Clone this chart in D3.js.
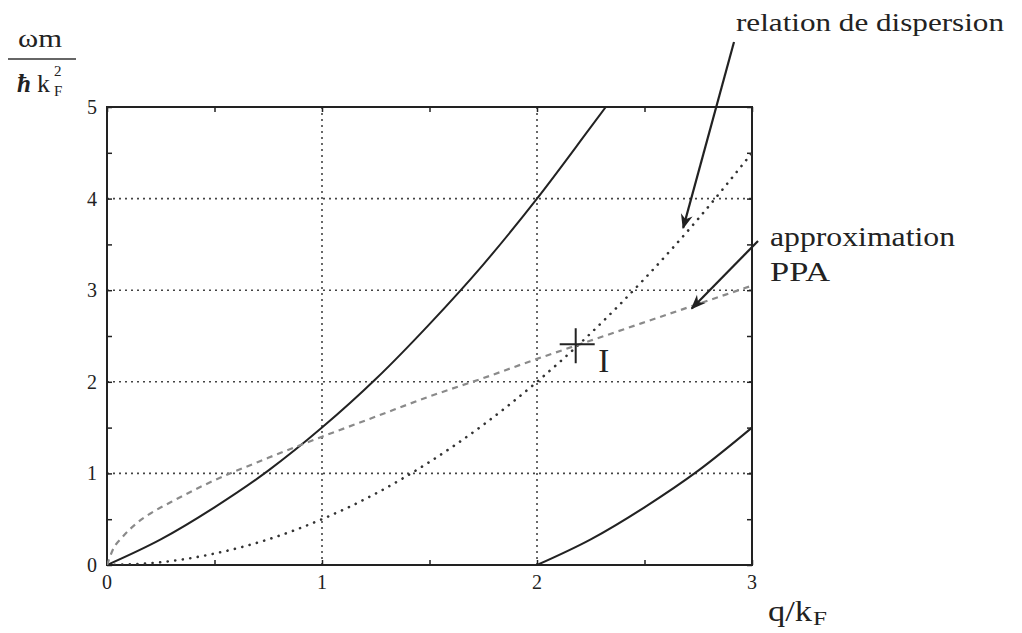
<!DOCTYPE html>
<html><head><meta charset="utf-8">
<script src="https://cdn.jsdelivr.net/npm/d3@7"></script>
<style>body{margin:0;background:#fff}svg{display:block}text{font-family:"Liberation Serif","DejaVu Serif",serif;fill:#222}</style>
</head><body>
<svg id="c" width="1022" height="633"></svg>
<script>
// Data
const xTicks = [0, 1, 2, 3];
const yTicks = [0, 1, 2, 3, 4, 5];
const upperQ = [0, 0.25, 0.5, 0.75, 1, 1.25, 1.5, 1.75, 2, 2.25, 2.32];
const upperW = [0, 0.28, 0.63, 1.03, 1.5, 2.03, 2.63, 3.28, 4.0, 4.78, 5.0];
const lowerQ = [2, 2.25, 2.5, 2.75, 3];
const lowerW = [0, 0.28, 0.63, 1.03, 1.5];
const dispQ = [0, 0.25, 0.5, 0.75, 1, 1.25, 1.5, 1.75, 2, 2.25, 2.5, 2.75, 3];
const dispW = [0, 0.03, 0.125, 0.28, 0.5, 0.78, 1.125, 1.53, 2.0, 2.53, 3.125, 3.78, 4.5];
const ppaQ = [0, 0.03, 0.07, 0.14, 0.2, 0.3, 0.45, 0.75, 1, 1.25, 1.5, 1.75, 2, 2.25, 2.5, 2.75, 3];
const ppaW = [0, 0.18, 0.3, 0.46, 0.56, 0.69, 0.87, 1.17, 1.4, 1.62, 1.84, 2.04, 2.25, 2.45, 2.65, 2.85, 3.05];
const pointI = {q: 2.18, w: 2.41, label: "I"};

const svg = d3.select("#c");
const L = 107, R = 752, T = 107, B = 565;
const x = d3.scaleLinear().domain([0, 3]).range([L, R]);
const y = d3.scaleLinear().domain([0, 5]).range([B, T]);

const defs = svg.append("defs");
defs.append("clipPath").attr("id", "clip").append("rect")
  .attr("x", L).attr("y", T).attr("width", R - L).attr("height", B - T);
defs.append("marker").attr("id", "ah").attr("viewBox", "0 0 10 10")
  .attr("refX", 9).attr("refY", 5).attr("markerWidth", 15).attr("markerHeight", 15)
  .attr("markerUnits", "userSpaceOnUse").attr("orient", "auto")
  .append("path").attr("d", "M0,1 L10,5 L0,9 L3,5 Z").attr("fill", "#222");

// grid
const g = svg.append("g");
g.selectAll(".gx").data(xTicks.filter(d => d > 0 && d < 3)).join("line")
  .attr("x1", d => x(d)).attr("x2", d => x(d)).attr("y1", B).attr("y2", T)
  .attr("stroke", "#444").attr("stroke-width", 1.6).attr("stroke-dasharray", "2,4");
g.selectAll(".gy").data(yTicks.filter(d => d > 0 && d < 5)).join("line")
  .attr("x1", L).attr("x2", R).attr("y1", d => y(d)).attr("y2", d => y(d))
  .attr("stroke", "#444").attr("stroke-width", 1.6).attr("stroke-dasharray", "2,4");

// axes with inward ticks
const minorX = d3.range(0, 3.01, 0.5), minorY = d3.range(0, 5.01, 0.5);
const axB = d3.axisBottom(x).tickValues(minorX).tickSize(-5).tickFormat("");
const axT = d3.axisTop(x).tickValues(minorX).tickSize(-5).tickFormat("");
const axL = d3.axisLeft(y).tickValues(minorY).tickSize(-5).tickFormat("");
const axR = d3.axisRight(y).tickValues(minorY).tickSize(-5).tickFormat("");
[[axB, `translate(0,${B})`], [axT, `translate(0,${T})`], [axL, `translate(${L},0)`], [axR, `translate(${R},0)`]]
  .forEach(([a, t]) => {
    const ga = svg.append("g").attr("transform", t).call(a);
    ga.select(".domain").remove();
    ga.selectAll("line").attr("stroke", "#222").attr("stroke-width", 1.5);
  });
svg.append("rect").attr("x", L).attr("y", T).attr("width", R - L).attr("height", B - T)
  .attr("fill", "none").attr("stroke", "#222").attr("stroke-width", 2);

// tick labels
svg.selectAll(".xl").data(xTicks).join("text")
  .attr("x", d => x(d)).attr("y", B + 24).attr("text-anchor", "middle")
  .attr("font-size", 20).text(d => d);
svg.selectAll(".yl").data(yTicks).join("text")
  .attr("x", L - 10).attr("y", d => y(d) + 7).attr("text-anchor", "end")
  .attr("font-size", 20).text(d => d);

// curves
const line = d3.line().x(d => x(d[0])).y(d => y(d[1])).curve(d3.curveMonotoneX);
const zip = (a, b) => a.map((v, i) => [v, b[i]]);
const cg = svg.append("g").attr("clip-path", "url(#clip)");
cg.append("path").attr("d", line(zip(upperQ, upperW))).attr("fill", "none")
  .attr("stroke", "#222").attr("stroke-width", 2);
cg.append("path").attr("d", line(zip(lowerQ, lowerW))).attr("fill", "none")
  .attr("stroke", "#222").attr("stroke-width", 2);
cg.append("path").attr("d", line(zip(dispQ, dispW))).attr("fill", "none")
  .attr("stroke", "#333").attr("stroke-width", 2.6).attr("stroke-linecap", "round")
  .attr("stroke-dasharray", "0.1,7.5");
cg.append("path").attr("d", line(zip(ppaQ, ppaW))).attr("fill", "none")
  .attr("stroke", "#8a8a8a").attr("stroke-width", 2.2).attr("stroke-dasharray", "6,5");

// point I cross
const cx = x(pointI.q), cy = y(pointI.w);
svg.append("line").attr("x1", cx - 16).attr("x2", cx + 19).attr("y1", cy).attr("y2", cy)
  .attr("stroke", "#222").attr("stroke-width", 2);
svg.append("line").attr("x1", cx).attr("x2", cx).attr("y1", cy - 16).attr("y2", cy + 19)
  .attr("stroke", "#222").attr("stroke-width", 2);
svg.append("text").attr("x", cx + 28).attr("y", cy + 28).attr("text-anchor", "middle")
  .attr("font-size", 33).attr("textLength", 11).attr("lengthAdjust", "spacingAndGlyphs").text(pointI.label);

// annotations
svg.append("text").attr("x", 736).attr("y", 31).attr("font-size", 26)
  .attr("textLength", 268).attr("lengthAdjust", "spacingAndGlyphs").text("relation de dispersion");
svg.append("line").attr("x1", 734).attr("y1", 42).attr("x2", x(2.68)).attr("y2", y(3.68))
  .attr("stroke", "#222").attr("stroke-width", 2.2).attr("marker-end", "url(#ah)");
svg.append("text").attr("x", 770).attr("y", 246).attr("font-size", 27)
  .attr("textLength", 185).attr("lengthAdjust", "spacingAndGlyphs").text("approximation");
svg.append("text").attr("x", 770).attr("y", 281).attr("font-size", 27)
  .attr("textLength", 60).attr("lengthAdjust", "spacingAndGlyphs").text("PPA");
svg.append("line").attr("x1", 758).attr("y1", 241).attr("x2", x(2.72)).attr("y2", y(2.8))
  .attr("stroke", "#222").attr("stroke-width", 2.2).attr("marker-end", "url(#ah)");

// axis titles
const yl = svg.append("g");
yl.append("text").attr("x", 18).attr("y", 47).attr("font-size", 25)
  .attr("textLength", 44).attr("lengthAdjust", "spacingAndGlyphs").text("ωm");
yl.append("line").attr("x1", 8).attr("x2", 76).attr("y1", 59).attr("y2", 59).attr("stroke", "#333").attr("stroke-width", 1.5);
yl.append("text").attr("x", 17).attr("y", 92).attr("font-size", 25)
  .attr("font-style", "italic").attr("font-weight", "bold").text("ħ");
yl.append("text").attr("x", 37).attr("y", 92).attr("font-size", 26).text("k");
yl.append("text").attr("x", 54).attr("y", 76).attr("font-size", 15).text("2");
yl.append("text").attr("x", 54).attr("y", 96).attr("font-size", 15).text("F");

svg.append("text").attr("x", 768).attr("y", 621).attr("font-size", 29)
  .attr("textLength", 44).attr("lengthAdjust", "spacingAndGlyphs").text("q/k");
svg.append("text").attr("x", 813).attr("y", 625).attr("font-size", 19)
  .attr("textLength", 14).attr("lengthAdjust", "spacingAndGlyphs").text("F");
</script>
</body></html>
